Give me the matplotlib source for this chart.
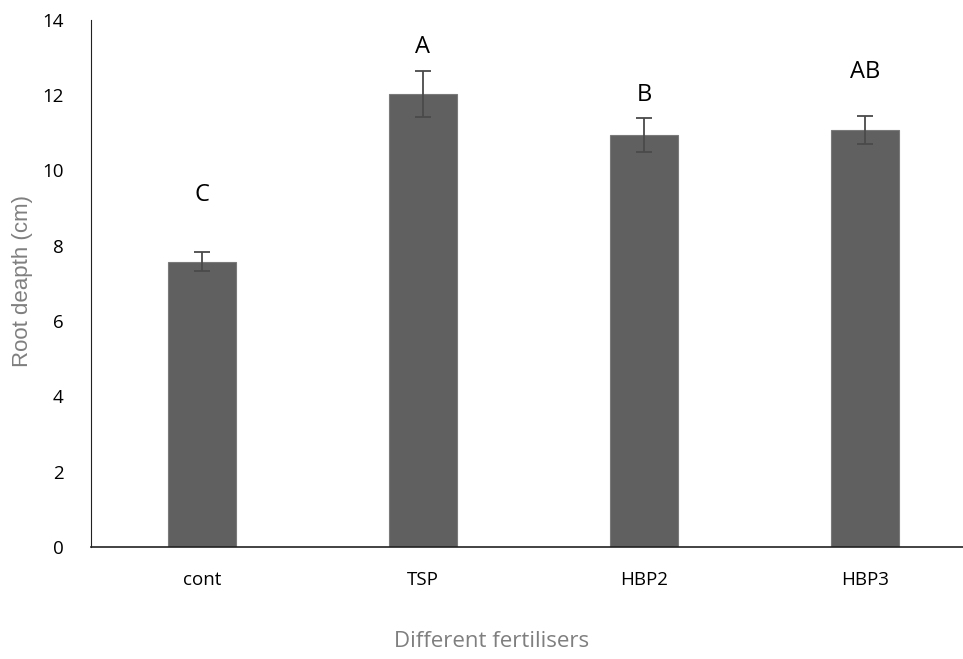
import matplotlib
matplotlib.use("Agg")
import matplotlib.pyplot as plt

categories = ["cont", "TSP", "HBP2", "HBP3"]
means = [7.58, 12.03, 10.93, 11.08]
errors = [0.24, 0.62, 0.45, 0.37]
letters = ["C", "A", "B", "AB"]
letter_y = [9.35, 13.28, 12.0, 12.62]

plt.rcParams['font.family'] = ['Open Sans', 'DejaVu Sans']

fig = plt.figure(figsize=(9.63, 6.59), dpi=100)
ax = fig.add_axes([0.095, 0.170, 0.918, 0.800])

x = range(len(categories))
ax.bar(x, means, width=0.31, color='#606060', edgecolor='#7a7a7a', linewidth=0.8,
       yerr=errors, capsize=6,
       error_kw=dict(ecolor='#4a4a4a', elinewidth=1.3, capthick=1.3))

for i, (t, yy) in enumerate(zip(letters, letter_y)):
    ax.text(i, yy, t, ha='center', va='center', fontsize=17, color='black')

ax.set_xlim(-0.5, 3.5)
ax.set_ylim(0, 14)
ax.set_yticks(range(0, 15, 2))
ax.set_xticks(list(x))
ax.set_xticklabels(categories)
ax.tick_params(axis='both', length=0, labelsize=13.5, colors='black')
ax.tick_params(axis='y', pad=20)
ax.tick_params(axis='x', pad=17)

ax.spines['top'].set_visible(False)
ax.spines['right'].set_visible(False)
ax.spines['left'].set_color('#222222')
ax.spines['bottom'].set_color('#222222')
ax.spines['bottom'].set_linewidth(1.2)

ax.set_ylabel('Root deapth (cm)', fontsize=16, color='#7f7f7f',
              family=['Liberation Sans', 'DejaVu Sans'])
ax.yaxis.set_label_coords(-0.066, 0.505)
ax.set_xlabel('Different fertilisers', fontsize=16, color='#7f7f7f')
ax.xaxis.set_label_coords(0.453, -0.16)

fig.savefig('out.png', dpi=100)
